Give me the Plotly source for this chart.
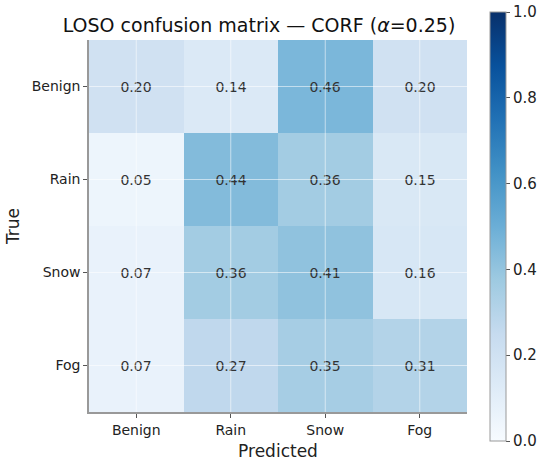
import plotly.graph_objects as go

classes = ["Benign", "Rain", "Snow", "Fog"]
matrix = [
    [0.20, 0.14, 0.46, 0.20],
    [0.05, 0.44, 0.36, 0.15],
    [0.07, 0.36, 0.41, 0.16],
    [0.07, 0.27, 0.35, 0.31],
]
cbar_ticks = [0.0, 0.2, 0.4, 0.6, 0.8, 1.0]

# matplotlib "Blues"
blues = [
    [0.0, "#f7fbff"], [0.125, "#deebf7"], [0.25, "#c6dbef"],
    [0.375, "#9ecae1"], [0.5, "#6baed6"], [0.625, "#4292c6"],
    [0.75, "#2171b5"], [0.875, "#08519c"], [1.0, "#08306b"],
]

font = "DejaVu Sans"

W, H = 550, 467
L, R, T, B = 89, 83, 40, 55
plot_w = W - L - R
plot_h = H - T - B

fig = go.Figure()
fig.add_trace(go.Heatmap(
    z=matrix,
    x=classes,
    y=classes,
    zmin=0, zmax=1,
    colorscale=blues,
    text=[[f"{v:.2f}" for v in row] for row in matrix],
    texttemplate="%{text}",
    textfont=dict(family=font, size=14, color="#333333"),
    colorbar=dict(
        x=(490 - L) / plot_w, xanchor="left", xpad=0,
        y=(H - B - 226.5) / plot_h, yanchor="middle", ypad=0,
        len=429, lenmode="pixels",
        thickness=16, thicknessmode="pixels",
        outlinecolor="#999999", outlinewidth=1,
        tickvals=cbar_ticks,
        ticktext=[f"{t:.1f}" for t in cbar_ticks],
        ticks="outside", ticklen=4, tickcolor="#555555",
        tickfont=dict(family=font, size=15, color="#222222"),
    ),
))

# light grid through cell centres, drawn above the cells like matplotlib
for i, _ in enumerate(classes):
    fig.add_shape(type="line", xref="x", yref="paper", x0=i, x1=i, y0=0, y1=1,
                  line=dict(color="rgba(255,255,255,0.55)", width=1), layer="above")
    fig.add_shape(type="line", xref="paper", yref="y", x0=0, x1=1, y0=i, y1=i,
                  line=dict(color="rgba(255,255,255,0.55)", width=1), layer="above")

fig.update_layout(
    width=W, height=H,
    margin=dict(l=L, r=R, t=T, b=B, autoexpand=False),
    paper_bgcolor="white",
    plot_bgcolor="white",
    font=dict(family=font, color="#222222"),
    title=dict(
        text="LOSO confusion matrix — CORF (<i>α</i>=0.25)",
        font=dict(family=font, size=19, color="#111111"),
        x=259 / W, xanchor="center",
        y=1 - 25 / H, yanchor="middle",
    ),
    xaxis=dict(
        title=dict(text="Predicted", font=dict(size=17), standoff=9),
        showgrid=False, zeroline=False,
        showline=True, linecolor="#999999", linewidth=1.5,
        ticks="outside", ticklen=4, tickcolor="#555555",
        tickfont=dict(size=14),
    ),
    yaxis=dict(
        title=dict(text="True", font=dict(size=17), standoff=8),
        autorange="reversed",
        showgrid=False, zeroline=False,
        showline=True, linecolor="#999999", linewidth=1.5,
        ticks="outside", ticklen=4, tickcolor="#555555",
        tickfont=dict(size=14),
    ),
)

# drop the browser's default body margin so the figure sits at the page corner
fig.write_html("out.html", config={"displayModeBar": False},
               post_script="document.body.style.margin='0px';")
